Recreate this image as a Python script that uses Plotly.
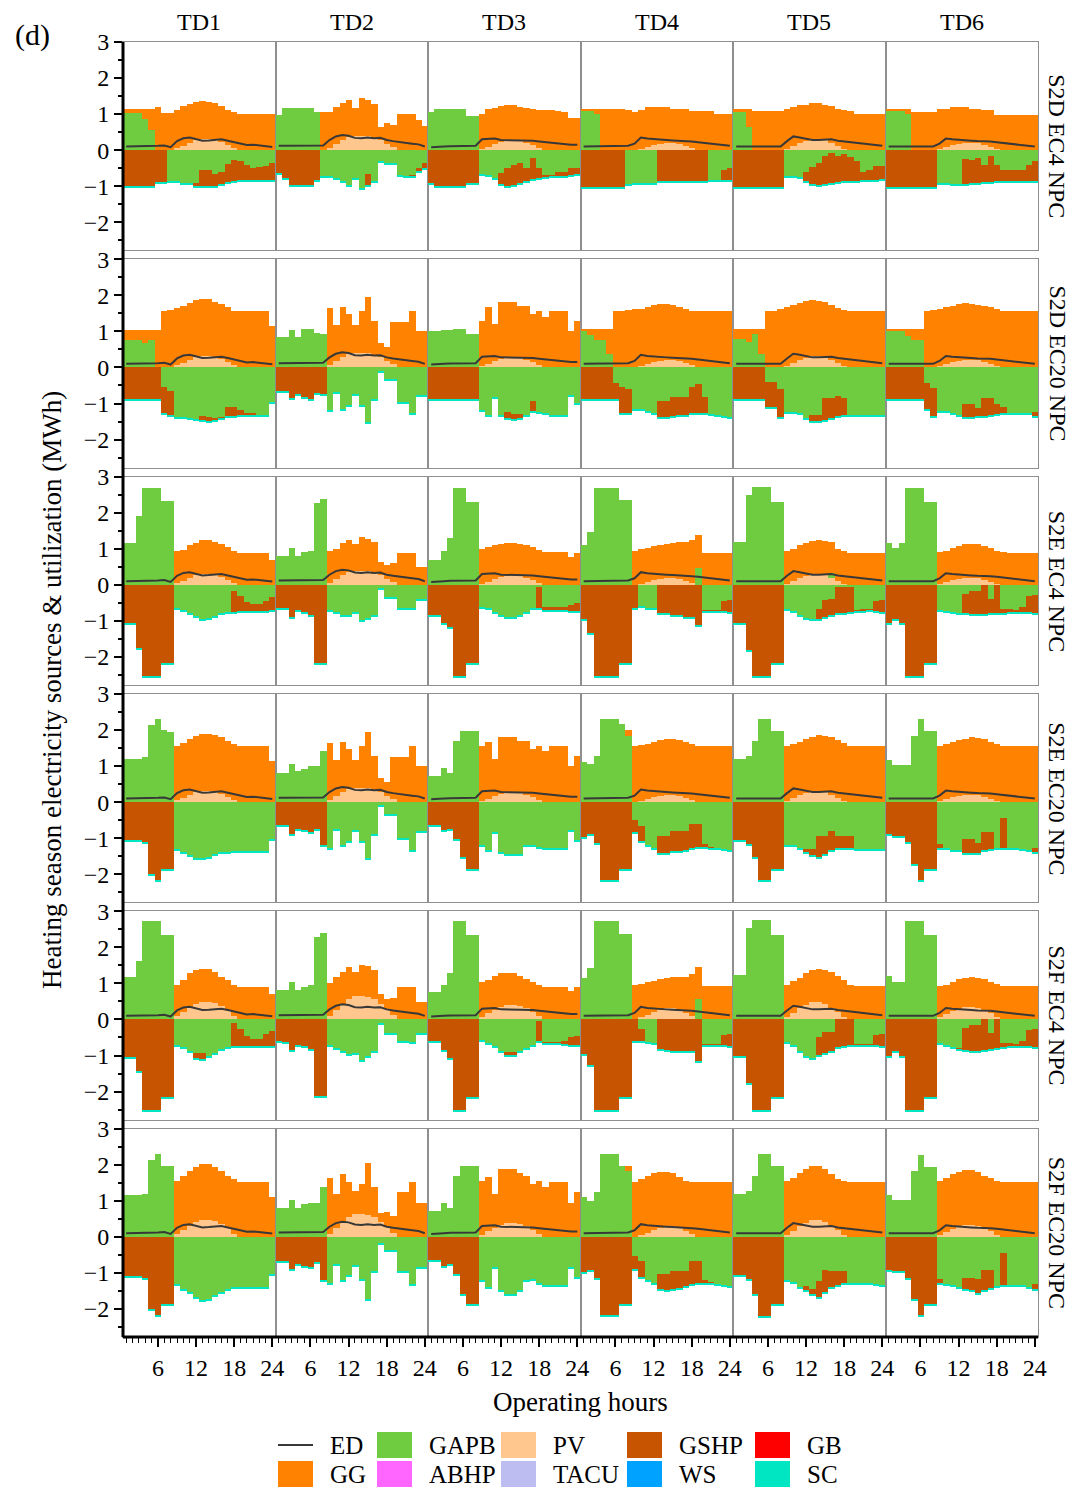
import plotly.graph_objects as go
from plotly.subplots import make_subplots

HOURS = list(range(1, 25))
TD_LABELS = ["TD1", "TD2", "TD3", "TD4", "TD5", "TD6"]
ROW_LABELS = ["S2D EC4 NPC", "S2D EC20 NPC", "S2E EC4 NPC", "S2E EC20 NPC", "S2F EC4 NPC", "S2F EC20 NPC"]
Y_TICKS = [-2, -1, 0, 1, 2, 3]
X_TICKS = [6, 12, 18, 24]

# Electricity demand line (same for every scenario), per typical day
ED_BY_TD = [
    [0.10,0.10,0.10,0.11,0.11,0.12,0.13,0.08, 0.25,0.33,0.35,0.30,0.26,0.27,0.28,0.30, 0.26,0.22,0.18,0.14,0.15,0.13,0.11,0.09],
    [0.12,0.12,0.11,0.12,0.12,0.11,0.12,0.13, 0.28,0.38,0.42,0.40,0.34,0.33,0.35,0.33, 0.34,0.28,0.25,0.22,0.20,0.18,0.16,0.10],
    [0.08,0.10,0.10,0.11,0.11,0.12,0.11,0.12, 0.30,0.32,0.32,0.28,0.28,0.28,0.27,0.27, 0.26,0.24,0.22,0.20,0.18,0.16,0.15,0.15],
    [0.10,0.10,0.10,0.10,0.10,0.10,0.10,0.12, 0.18,0.35,0.32,0.30,0.28,0.28,0.27,0.26, 0.27,0.24,0.22,0.20,0.19,0.17,0.15,0.12],
    [0.10,0.10,0.10,0.10,0.10,0.10,0.10,0.10, 0.25,0.38,0.35,0.32,0.28,0.28,0.30,0.30, 0.26,0.24,0.22,0.18,0.17,0.15,0.14,0.12],
    [0.10,0.10,0.10,0.10,0.10,0.10,0.10,0.10, 0.18,0.32,0.30,0.28,0.27,0.26,0.25,0.25, 0.24,0.22,0.20,0.19,0.17,0.16,0.14,0.10],
]

# PV output
PV_S2D_S2E = [
    [0,0,0,0,0,0,0,0, 0.05,0.12,0.20,0.27,0.30,0.30,0.28,0.22, 0.15,0.06,0,0,0,0,0,0],
    [0,0,0,0,0,0,0,0, 0.06,0.16,0.28,0.36,0.40,0.40,0.38,0.35, 0.28,0.18,0.08,0,0,0,0,0],
    [0,0,0,0,0,0,0,0, 0.04,0.10,0.17,0.22,0.26,0.26,0.24,0.20, 0.14,0.06,0,0,0,0,0,0],
    [0,0,0,0,0,0,0,0, 0,0.03,0.08,0.14,0.18,0.20,0.20,0.17, 0.12,0.05,0,0,0,0,0,0],
    [0,0,0,0,0,0,0,0, 0.04,0.12,0.20,0.26,0.30,0.30,0.27,0.20, 0.12,0.04,0,0,0,0,0,0],
    [0,0,0,0,0,0,0,0, 0.03,0.08,0.14,0.18,0.21,0.21,0.19,0.15, 0.10,0.04,0,0,0,0,0,0],
]
PV_S2F = [
    [0,0,0,0,0,0,0,0, 0.08,0.20,0.32,0.42,0.48,0.48,0.45,0.36, 0.24,0.10,0,0,0,0,0,0],
    [0,0,0,0,0,0,0,0, 0.10,0.25,0.42,0.55,0.63,0.65,0.62,0.55, 0.42,0.27,0.12,0,0,0,0,0],
    [0,0,0,0,0,0,0,0, 0.06,0.16,0.26,0.34,0.39,0.39,0.36,0.30, 0.20,0.08,0,0,0,0,0,0],
    [0,0,0,0,0,0,0,0, 0,0.05,0.12,0.20,0.26,0.30,0.30,0.26, 0.18,0.08,0,0,0,0,0,0],
    [0,0,0,0,0,0,0,0, 0.07,0.18,0.30,0.40,0.47,0.48,0.43,0.32, 0.20,0.06,0,0,0,0,0,0],
    [0,0,0,0,0,0,0,0, 0.05,0.13,0.22,0.29,0.34,0.35,0.32,0.26, 0.16,0.06,0,0,0,0,0,0],
]

# small SC utilization at the bottom of the negative stack
SC_SMALL = [0.03,0.03,0.03,0.03,0.03,0.03,0.03,0.03, 0.03,0.03,0.03,0.03,0.03,0.03,0.03,0.03, 0.03,0.03,0.03,0.03,0.03,0.03,0.03,0.03]

# ---------- S2D EC4 ----------
S2D_EC4_TOP = [
    [1.13,1.13,1.13,1.13,1.15,1.20,1.02,1.02, 1.12,1.22,1.28,1.33,1.35,1.34,1.30,1.22, 1.12,1.05,1.00,1.00,1.00,1.00,1.00,1.00],
    [0.97,1.18,1.18,1.18,1.18,1.18,1.06,1.06, 1.06,1.20,1.30,1.39,1.16,1.44,1.39,1.28, 0.65,0.74,0.69,1.00,1.00,1.00,0.83,0.67],
    [1.05,1.14,1.14,1.14,1.14,1.14,0.95,0.95, 1.00,1.14,1.18,1.22,1.25,1.25,1.20,1.18, 1.14,1.12,1.10,1.10,1.09,1.05,0.88,0.88],
    [1.14,1.14,1.14,1.14,1.14,1.14,1.14,1.10, 1.06,1.12,1.19,1.19,1.19,1.19,1.15,1.15, 1.15,1.08,1.08,1.08,1.08,1.00,1.00,1.00],
    [1.14,1.14,1.14,1.09,1.09,1.09,1.09,1.09, 1.15,1.19,1.24,1.26,1.30,1.30,1.25,1.22, 1.14,1.10,1.08,1.00,1.00,1.00,1.00,1.00],
    [1.13,1.13,1.13,1.13,1.07,1.07,1.07,1.07, 1.14,1.14,1.20,1.20,1.20,1.14,1.14,1.10, 1.10,0.98,0.98,0.98,0.98,0.98,0.98,0.98],
]
S2D_EC4_GAPB_P = [
    [1.02,1.02,1.02,0.85,0.55,0,0,0, 0,0,0,0,0,0,0,0, 0,0,0,0,0,0,0,0],
    [0.97,1.18,1.18,1.18,1.18,1.18,1.06,0, 0,0,0,0,0,0,0,0, 0,0,0,0,0,0,0,0],
    [1.05,1.14,1.14,1.14,1.14,1.14,0.95,0.95, 0,0,0,0,0,0,0,0, 0,0,0,0,0,0,0,0],
    [1.10,1.10,1.00,0,0,0,0,0, 0,0,0,0,0,0,0,0, 0,0,0,0,0,0,0,0],
    [1.05,1.05,0.65,0,0,0,0,0, 0,0,0,0,0,0,0,0, 0,0,0,0,0,0,0,0],
    [1.09,1.09,1.09,1.00,0,0,0,0, 0,0,0,0,0,0,0,0, 0,0,0,0,0,0,0,0],
]
S2D_EC4_BOT = [
    [1.00,1.00,1.00,1.00,1.00,0.90,0.90,0.86, 0.86,0.92,0.92,1.02,1.02,1.02,1.00,0.95, 0.90,0.86,0.84,0.84,0.84,0.84,0.84,0.84],
    [0.65,0.80,0.97,0.97,0.97,0.97,0.83,0.74, 0.74,0.79,0.88,0.97,0.80,1.06,0.97,0.88, 0.32,0.37,0.37,0.69,0.72,0.74,0.60,0.50],
    [0.92,1.00,1.00,1.00,1.00,1.00,0.92,0.92, 0.68,0.70,0.80,0.96,1.00,0.98,0.92,0.88, 0.82,0.78,0.75,0.74,0.73,0.72,0.70,0.68],
    [1.05,1.05,1.05,1.05,1.05,1.05,1.05,0.95, 0.92,0.92,0.92,0.92,0.88,0.88,0.88,0.88, 0.88,0.88,0.88,0.88,0.85,0.85,0.85,0.85],
    [1.05,1.05,1.05,1.05,1.05,1.05,1.05,1.05, 0.72,0.72,0.75,0.88,0.96,0.98,0.95,0.92, 0.90,0.88,0.87,0.86,0.85,0.84,0.83,0.82],
    [1.05,1.05,1.05,1.05,1.05,1.05,1.05,1.05, 0.92,0.92,0.95,0.96,0.95,0.93,0.92,0.90, 0.90,0.88,0.86,0.86,0.86,0.86,0.86,0.86],
]
S2D_EC4_GAPB_N = [
    [0,0,0,0,0,0,0,0.86, 0.86,0.92,0.92,0.90,0.55,0.55,0.65,0.62, 0.38,0.28,0.30,0.40,0.50,0.48,0.45,0.35],
    [0,0,0,0,0,0,0,0.74, 0.74,0.79,0.88,0.97,0.80,1.06,0.65,0.88, 0.32,0.37,0.37,0.69,0.72,0.70,0.50,0.35],
    [0,0,0,0,0,0,0,0, 0.68,0.70,0.80,0.64,0.50,0.42,0.36,0.50, 0.22,0.50,0.70,0.70,0.60,0.60,0.50,0.50],
    [0,0,0,0,0,0,0,0.95, 0.92,0.92,0.92,0.92,0,0,0,0, 0,0,0,0,0.85,0.85,0.55,0.50],
    [0,0,0,0,0,0,0,0, 0.72,0.72,0.75,0.60,0.48,0.35,0.15,0.08, 0.15,0.12,0.18,0.30,0.60,0.55,0.45,0.45],
    [0,0,0,0,0,0,0,0, 0.92,0.92,0.95,0.96,0.25,0.28,0.22,0.40, 0.17,0.40,0.55,0.55,0.55,0.55,0.40,0.30],
]

# ---------- S2D EC20 ----------
S2D_EC20_TOP = [
    [1.03,1.03,1.03,1.03,1.03,1.03,1.55,1.58, 1.63,1.70,1.78,1.85,1.90,1.88,1.82,1.75, 1.68,1.55,1.55,1.55,1.55,1.55,1.55,1.15],
    [0.84,0.84,1.03,0.84,1.06,1.06,0.96,0.92, 1.64,1.18,1.68,1.47,1.18,1.55,1.94,1.29, 0.66,0.55,1.24,1.24,1.24,1.55,0.99,0.99],
    [0.99,0.99,1.03,1.03,1.06,1.06,0.92,0.92, 1.29,1.68,1.19,1.80,1.80,1.80,1.70,1.70, 1.47,1.56,1.40,1.55,1.55,1.55,0.99,1.27],
    [1.06,1.06,1.06,1.06,1.06,1.55,1.55,1.58, 1.60,1.62,1.68,1.72,1.75,1.75,1.72,1.68, 1.62,1.55,1.55,1.55,1.55,1.55,1.55,1.55],
    [1.06,1.06,1.06,1.06,1.06,1.55,1.55,1.60, 1.66,1.72,1.78,1.84,1.86,1.84,1.80,1.72, 1.65,1.58,1.55,1.55,1.55,1.55,1.55,1.55],
    [1.06,1.06,1.06,1.06,1.06,1.06,1.55,1.58, 1.62,1.66,1.70,1.75,1.77,1.76,1.73,1.70, 1.66,1.60,1.55,1.55,1.55,1.55,1.55,1.55],
]
S2D_EC20_GAPB_P = [
    [0.75,0.75,0.75,0.66,0.75,0,0,0, 0,0,0,0,0,0,0,0, 0,0,0,0,0,0,0,0],
    [0.84,0.84,1.03,0.84,1.06,1.06,0.96,0.92, 0,0,0,0,0,0,0,0, 0,0,0,0,0,0,0,0],
    [0.99,0.99,1.03,1.03,1.06,1.06,0.92,0.92, 0,0,0,0,0,0,0,0, 0,0,0,0,0,0,0,0],
    [0.99,0.90,0.75,0.75,0.36,0,0,0, 0,0,0,0,0,0,0,0, 0,0,0,0,0,0,0,0],
    [0.78,0.78,0.69,0.92,0.36,0,0,0, 0,0,0,0,0,0,0,0, 0,0,0,0,0,0,0,0],
    [0.99,1.03,1.03,0.87,0.75,0.75,0,0, 0,0,0,0,0,0,0,0, 0,0,0,0,0,0,0,0],
]
S2D_EC20_BOT = [
    [0.89,0.89,0.89,0.89,0.89,0.89,1.30,1.35, 1.40,1.40,1.42,1.45,1.48,1.50,1.47,1.43, 1.38,1.36,1.35,1.35,1.35,1.35,1.35,0.98],
    [0.68,0.68,0.88,0.75,0.85,0.90,0.72,0.75, 1.21,0.70,1.17,1.07,0.75,1.07,1.54,0.89, 0.12,0.35,0.35,0.98,0.98,1.29,0.80,0.80],
    [0.89,0.89,0.89,0.89,0.89,0.89,0.89,0.89, 1.21,1.35,0.84,1.35,1.42,1.45,1.42,1.35, 1.22,1.25,1.30,1.35,1.35,1.35,0.80,1.02],
    [0.89,0.89,0.89,0.89,0.89,0.90,1.30,1.30, 1.17,1.18,1.22,1.30,1.40,1.40,1.37,1.35, 1.33,1.30,1.30,1.30,1.32,1.35,1.37,1.40],
    [0.89,0.89,0.89,0.89,0.89,1.12,1.12,1.40, 1.25,1.25,1.30,1.42,1.50,1.52,1.48,1.42, 1.38,1.35,1.33,1.33,1.33,1.33,1.33,1.33],
    [0.89,0.89,0.89,0.89,0.89,0.89,1.17,1.38, 1.22,1.24,1.30,1.35,1.40,1.40,1.38,1.37, 1.35,1.32,1.30,1.30,1.30,1.30,1.30,1.38],
]
S2D_EC20_GAPB_N = [
    [0,0,0,0,0,0,0.56,0.66, 1.40,1.40,1.42,1.45,1.35,1.38,1.40,1.40, 1.10,1.10,1.20,1.30,1.30,1.35,1.35,0.98],
    [0,0,0,0,0,0,0,0, 1.21,0.70,1.17,1.07,0.75,1.07,1.54,0.89, 0.12,0.35,0.35,0.98,0.98,1.29,0.80,0.80],
    [0,0,0,0,0,0,0,0, 1.21,1.35,0.84,1.35,1.25,1.30,1.30,1.35, 0.95,1.25,1.30,1.35,1.35,1.35,0.80,1.02],
    [0,0,0,0,0,0.45,0.55,0.60, 1.17,1.18,1.22,1.30,0.94,0.94,0.84,0.84, 0.84,0.56,0.47,0.84,1.32,1.35,1.37,1.40],
    [0,0,0,0,0,0.40,0.40,0.60, 1.25,1.25,1.30,1.42,1.32,1.32,0.85,0.85, 0.80,0.85,1.33,1.33,1.33,1.33,1.33,1.33],
    [0,0,0,0,0,0,0.43,0.57, 1.22,1.24,1.30,1.35,1.03,1.03,1.12,0.85, 0.85,1.03,1.10,1.30,1.30,1.30,1.30,1.25],
]

# ---------- S2E EC4 ----------
S2E_EC4_TOP = [
    [1.18,1.18,1.92,2.70,2.70,2.70,2.33,2.33, 0.94,0.98,1.10,1.18,1.24,1.24,1.20,1.15, 1.06,0.95,0.90,0.90,0.90,0.90,0.90,0.69],
    [0.80,0.80,1.03,0.82,0.92,0.96,2.28,2.40, 0.94,1.00,1.18,1.24,1.15,1.33,1.29,1.19, 0.64,0.57,0.62,0.90,0.90,0.90,0.50,0.50],
    [0.71,0.71,0.94,1.31,2.70,2.70,2.30,2.30, 0.99,1.05,1.10,1.15,1.18,1.18,1.15,1.10, 1.05,0.98,0.92,0.92,0.92,0.92,0.78,0.90],
    [1.12,1.47,2.70,2.70,2.70,2.70,2.35,2.35, 0.94,1.00,1.03,1.08,1.12,1.15,1.17,1.19, 1.19,1.24,1.40,0.90,0.90,0.90,0.90,0.90],
    [1.21,1.21,2.49,2.72,2.72,2.72,2.30,2.30, 0.94,1.00,1.12,1.18,1.22,1.24,1.22,1.19, 1.00,0.94,0.90,0.90,0.90,0.90,0.90,0.90],
    [1.18,1.03,1.18,2.70,2.70,2.70,2.32,2.32, 0.92,0.95,1.02,1.08,1.14,1.15,1.14,1.08, 1.02,0.96,0.92,0.90,0.90,0.90,0.90,0.90],
]
S2E_EC4_GAPB_P = [
    [1.18,1.18,1.92,2.70,2.70,2.70,2.33,2.33, 0,0,0,0,0,0,0,0, 0,0,0,0,0,0,0,0],
    [0.80,0.80,1.03,0.82,0.92,0.96,2.28,2.40, 0,0,0,0,0,0,0,0, 0,0,0,0,0,0,0,0],
    [0.71,0.71,0.94,1.31,2.70,2.70,2.30,2.30, 0,0,0,0,0,0,0,0, 0,0,0,0,0,0,0,0],
    [1.12,1.47,2.70,2.70,2.70,2.70,2.35,2.35, 0,0,0,0,0,0,0,0, 0,0,0.47,0,0,0,0,0],
    [1.21,1.21,2.49,2.72,2.72,2.72,2.30,2.30, 0,0,0,0,0,0,0,0.13, 0,0,0,0,0,0,0,0],
    [1.18,1.03,1.18,2.70,2.70,2.70,2.32,2.32, 0,0,0,0,0,0,0,0, 0,0,0,0,0,0,0,0],
]
S2E_EC4_BOT = [
    [1.07,1.07,1.77,2.53,2.53,2.53,2.18,2.18, 0.66,0.70,0.80,0.88,0.94,0.92,0.88,0.80, 0.75,0.75,0.74,0.73,0.72,0.72,0.72,0.70],
    [0.66,0.66,0.89,0.70,0.75,0.84,2.18,2.18, 0.70,0.75,0.84,0.84,0.75,0.98,0.92,0.84, 0.10,0.33,0.33,0.66,0.66,0.64,0.40,0.40],
    [0.84,0.84,1.07,1.17,2.53,2.53,2.18,2.18, 0.61,0.66,0.75,0.84,0.89,0.89,0.84,0.75, 0.66,0.66,0.70,0.70,0.70,0.70,0.72,0.73],
    [0.94,1.35,2.53,2.53,2.53,2.53,2.18,2.18, 0.65,0.60,0.65,0.65,0.80,0.80,0.84,0.84, 0.89,0.89,1.12,0.72,0.72,0.72,0.74,0.75],
    [1.07,1.07,1.81,2.53,2.53,2.53,2.18,2.18, 0.68,0.72,0.85,0.92,0.95,0.95,0.90,0.85, 0.80,0.78,0.75,0.74,0.72,0.70,0.72,0.75],
    [1.07,0.94,1.07,2.53,2.53,2.53,2.18,2.18, 0.70,0.72,0.75,0.78,0.80,0.82,0.82,0.82, 0.80,0.80,0.78,0.76,0.75,0.75,0.76,0.78],
]
S2E_EC4_GAPB_N = [
    [0,0,0,0,0,0,0,0, 0.66,0.70,0.80,0.88,0.94,0.92,0.88,0.80, 0.75,0.15,0.29,0.47,0.52,0.52,0.43,0.33],
    [0,0,0,0,0,0,0,0, 0.70,0.75,0.84,0.84,0.75,0.98,0.92,0.84, 0.10,0.33,0.33,0.66,0.66,0.64,0.40,0.40],
    [0,0,0,0,0,0,0,0, 0.61,0.66,0.75,0.84,0.89,0.89,0.84,0.75, 0.66,0.05,0.62,0.62,0.62,0.62,0.55,0.50],
    [0,0,0,0,0,0,0,0, 0,0.60,0.65,0.65,0,0,0,0, 0,0,0,0.70,0.70,0.70,0.45,0.40],
    [0,0,0,0,0,0,0,0, 0.68,0.72,0.85,0.92,0.95,0.66,0.40,0.38, 0.05,0.05,0.05,0.68,0.68,0.68,0.45,0.42],
    [0,0,0,0,0,0,0,0, 0.70,0.72,0.75,0.78,0.24,0.15,0.15,0, 0.38,0,0.65,0.65,0.68,0.60,0.30,0.28],
]

# ---------- S2E EC20 ----------
S2E_EC20_TOP = [
    [1.19,1.19,1.19,1.24,2.14,2.32,2.00,1.95, 1.56,1.64,1.75,1.84,1.89,1.89,1.86,1.80, 1.70,1.60,1.55,1.55,1.55,1.55,1.55,1.15],
    [0.82,0.82,1.06,0.87,0.92,0.99,0.99,1.43, 1.64,1.18,1.68,1.47,1.18,1.55,1.94,1.29, 0.66,0.55,1.24,1.24,1.24,1.55,0.99,0.99],
    [0.73,0.73,0.94,0.82,1.70,1.98,1.98,1.98, 1.56,1.68,1.19,1.80,1.80,1.80,1.70,1.70, 1.47,1.56,1.43,1.55,1.55,1.55,0.99,1.27],
    [1.12,1.06,1.29,2.32,2.32,2.32,2.17,2.00, 1.55,1.58,1.62,1.68,1.72,1.75,1.75,1.72, 1.66,1.60,1.55,1.55,1.55,1.55,1.55,1.55],
    [1.19,1.19,1.29,1.70,2.32,2.32,1.98,1.98, 1.55,1.60,1.68,1.75,1.82,1.86,1.84,1.80, 1.72,1.64,1.57,1.55,1.55,1.55,1.55,1.55],
    [1.18,1.03,1.03,1.03,1.84,2.32,1.98,1.98, 1.55,1.60,1.66,1.72,1.76,1.80,1.78,1.74, 1.68,1.62,1.55,1.55,1.55,1.55,1.55,1.55],
]
S2E_EC20_GAPB_P = [
    [1.19,1.19,1.19,1.24,2.14,2.32,2.00,1.95, 0,0,0,0,0,0,0,0, 0,0,0,0,0,0,0,0],
    [0.82,0.82,1.06,0.87,0.92,0.99,0.99,1.43, 0,0,0,0,0,0,0,0, 0,0,0,0,0,0,0,0],
    [0.73,0.73,0.94,0.82,1.70,1.98,1.98,1.98, 0,0,0,0,0,0,0,0, 0,0,0,0,0,0,0,0],
    [1.12,1.06,1.29,2.32,2.32,2.32,2.17,1.84, 0,0,0,0,0,0,0,0, 0,0,0,0,0,0,0,0],
    [1.19,1.19,1.29,1.70,2.32,2.32,1.98,1.98, 0,0,0,0,0,0,0,0, 0,0,0,0,0,0,0,0],
    [1.18,1.03,1.03,1.03,1.84,2.32,1.98,1.98, 0,0,0,0,0,0,0,0, 0,0,0,0,0,0,0,0],
]
S2E_EC20_BOT = [
    [1.07,1.07,1.07,1.12,2.00,2.18,1.86,1.86, 1.32,1.40,1.49,1.56,1.56,1.54,1.44,1.40, 1.40,1.37,1.37,1.37,1.37,1.37,1.37,1.03],
    [0.66,0.66,0.89,0.75,0.80,0.84,0.75,1.19, 1.28,0.75,1.20,1.10,0.78,1.10,1.55,0.90, 0.10,0.35,0.35,1.00,1.00,1.33,0.82,0.82],
    [0.66,0.66,0.80,0.75,1.03,1.54,1.86,1.86, 1.21,1.35,0.84,1.40,1.44,1.44,1.44,1.21, 1.19,1.26,1.30,1.30,1.30,1.30,0.80,1.07],
    [0.98,0.89,1.14,2.18,2.18,2.18,1.86,1.86, 0.85,1.10,1.21,1.30,1.42,1.42,1.38,1.36, 1.34,1.30,1.27,1.27,1.30,1.30,1.32,1.35],
    [1.07,1.07,1.17,1.54,2.18,2.18,1.86,1.86, 1.21,1.21,1.30,1.40,1.49,1.54,1.45,1.35, 1.30,1.28,1.30,1.32,1.32,1.32,1.32,1.32],
    [0.89,0.94,0.94,1.12,1.72,2.18,1.86,1.86, 1.30,1.30,1.35,1.35,1.42,1.42,1.42,1.35, 1.32,1.30,1.30,1.30,1.30,1.32,1.35,1.40],
]
S2E_EC20_GAPB_N = [
    [0,0,0,0,0,0,0,0, 1.32,1.40,1.49,1.56,1.56,1.54,1.44,1.40, 1.40,1.37,1.37,1.37,1.37,1.37,1.37,1.03],
    [0,0,0,0,0,0,0,0, 1.28,0.75,1.20,1.10,0.78,1.10,1.55,0.90, 0.10,0.35,0.35,1.00,1.00,1.33,0.82,0.82],
    [0,0,0,0,0,0,0,0, 1.21,1.35,0.84,1.40,1.44,1.44,1.44,1.21, 1.19,1.26,1.30,1.30,1.30,1.30,0.80,1.07],
    [0,0,0,0,0,0,0,0, 0.50,0.65,1.21,1.30,0.95,0.95,0.80,0.80, 0.80,0.62,0.62,1.17,1.25,1.30,1.32,1.35],
    [0,0,0,0,0,0,0,0, 1.21,1.21,1.30,1.30,1.30,0.94,0.94,0.80, 0.94,0.94,0.94,1.32,1.32,1.32,1.32,1.32],
    [0,0,0,0,0,0,0,0, 1.17,1.30,1.35,1.35,1.03,1.03,1.12,0.84, 0.84,1.30,0.43,1.30,1.30,1.32,1.35,1.28],
]

# ---------- S2F EC4 ----------
S2F_EC4_TOP = [
    [1.18,1.18,1.60,2.73,2.73,2.73,2.33,2.33, 0.94,1.08,1.27,1.36,1.40,1.40,1.31,1.18, 1.08,0.94,0.90,0.90,0.90,0.90,0.90,0.71],
    [0.80,0.80,1.03,0.80,0.90,0.96,2.28,2.38, 0.99,1.18,1.31,1.45,1.31,1.50,1.48,1.36, 0.69,0.57,0.60,0.90,0.90,0.90,0.48,0.48],
    [0.74,0.74,0.94,1.27,2.73,2.73,2.33,2.33, 1.02,1.08,1.20,1.27,1.27,1.27,1.20,1.11, 1.02,0.94,0.90,0.90,0.90,0.90,0.78,0.90],
    [1.13,1.43,2.72,2.72,2.72,2.72,2.35,2.35, 0.94,0.98,1.02,1.06,1.12,1.14,1.16,1.18, 1.18,1.24,1.45,0.93,0.93,0.93,0.93,0.93],
    [1.22,1.22,2.52,2.75,2.75,2.75,2.33,2.33, 0.94,1.05,1.15,1.27,1.35,1.39,1.36,1.30, 1.20,1.08,0.95,0.93,0.93,0.93,0.93,0.93],
    [1.20,1.04,1.04,2.72,2.72,2.72,2.33,2.33, 0.92,0.96,1.03,1.10,1.15,1.17,1.15,1.10, 1.03,0.97,0.93,0.92,0.92,0.92,0.92,0.92],
]
S2F_EC4_GAPB_P = [
    [1.18,1.18,1.60,2.73,2.73,2.73,2.33,2.33, 0,0,0,0,0,0,0,0, 0,0,0,0,0,0,0,0],
    [0.80,0.80,1.03,0.80,0.90,0.96,2.28,2.38, 0,0,0,0,0,0,0,0, 0,0,0,0,0,0,0,0],
    [0.74,0.74,0.94,1.27,2.73,2.73,2.33,2.33, 0,0,0,0,0,0,0,0, 0,0,0,0,0,0,0,0],
    [1.13,1.43,2.72,2.72,2.72,2.72,2.35,2.35, 0,0,0,0,0,0,0,0, 0,0,0.55,0,0,0,0,0],
    [1.22,1.22,2.52,2.75,2.75,2.75,2.33,2.33, 0,0,0,0,0,0,0,0, 0,0,0,0,0,0,0,0],
    [1.20,1.04,1.04,2.72,2.72,2.72,2.33,2.33, 0,0,0,0,0,0,0,0, 0,0,0,0,0,0,0,0],
]
S2F_EC4_BOT = [
    [1.07,1.07,1.46,2.53,2.53,2.53,2.18,2.18, 0.72,0.80,0.90,1.10,1.11,1.05,0.95,0.85, 0.78,0.77,0.77,0.77,0.77,0.77,0.77,0.77],
    [0.63,0.66,0.86,0.72,0.77,0.83,2.16,2.16, 0.72,0.81,0.90,0.99,0.95,1.14,1.05,0.90, 0.12,0.40,0.40,0.63,0.63,0.65,0.40,0.40],
    [0.63,0.63,0.86,1.09,2.53,2.53,2.18,2.18, 0.58,0.68,0.77,0.90,1.00,1.00,0.90,0.81, 0.72,0.63,0.68,0.68,0.68,0.70,0.72,0.73],
    [0.98,1.28,2.53,2.53,2.53,2.53,2.18,2.18, 0.63,0.62,0.65,0.68,0.85,0.88,0.90,0.90, 0.90,0.90,1.17,0.72,0.72,0.72,0.74,0.75],
    [1.05,1.05,1.79,2.53,2.53,2.53,2.18,2.18, 0.65,0.72,0.90,1.05,1.09,1.02,0.95,0.90, 0.80,0.75,0.73,0.72,0.72,0.72,0.74,0.75],
    [1.05,0.91,1.05,2.53,2.53,2.53,2.18,2.18, 0.68,0.72,0.78,0.85,0.88,0.90,0.90,0.88, 0.85,0.82,0.78,0.76,0.75,0.75,0.76,0.78],
]
S2F_EC4_GAPB_N = [
    [0,0,0,0,0,0,0,0, 0.72,0.80,0.90,0.95,0.95,1.05,0.95,0.85, 0.78,0.12,0.26,0.47,0.54,0.54,0.40,0.33],
    [0,0,0,0,0,0,0,0, 0.72,0.81,0.90,0.99,0.95,1.14,1.05,0.90, 0.12,0.40,0.40,0.63,0.63,0.65,0.40,0.40],
    [0,0,0,0,0,0,0,0, 0.58,0.68,0.77,0.90,0.92,0.92,0.90,0.81, 0.72,0.05,0.65,0.65,0.65,0.62,0.50,0.48],
    [0,0,0,0,0,0,0,0, 0,0.28,0.65,0.68,0,0,0,0, 0,0,0,0.70,0.70,0.70,0.45,0.42],
    [0,0,0,0,0,0,0,0, 0.65,0.72,0.90,1.05,1.09,0.50,0.35,0.35, 0,0,0,0.70,0.70,0.70,0.45,0.42],
    [0,0,0,0,0,0,0,0, 0.68,0.72,0.78,0.82,0.24,0.15,0.15,0, 0.38,0,0.65,0.65,0.68,0.60,0.30,0.28],
]

# ---------- S2F EC20 ----------
S2F_EC20_TOP = [
    [1.17,1.17,1.17,1.21,2.14,2.32,1.98,1.98, 1.56,1.70,1.84,1.95,2.03,2.03,1.95,1.84, 1.70,1.61,1.52,1.52,1.52,1.52,1.52,1.12],
    [0.80,0.80,1.03,0.82,0.92,0.96,0.96,1.40, 1.64,1.21,1.75,1.52,1.29,1.47,2.07,1.40, 0.66,0.69,0.60,1.24,1.24,1.52,0.96,0.96],
    [0.73,0.73,0.94,0.82,1.70,1.98,1.98,1.98, 1.55,1.68,1.19,1.89,1.89,1.89,1.77,1.70, 1.47,1.55,1.40,1.52,1.52,1.52,0.94,1.24],
    [1.12,1.01,1.24,2.30,2.30,2.30,1.98,1.98, 1.52,1.61,1.70,1.77,1.80,1.80,1.77,1.66, 1.56,1.52,1.52,1.52,1.52,1.52,1.52,1.52],
    [1.19,1.19,1.29,1.70,2.32,2.32,1.98,1.98, 1.55,1.64,1.77,1.89,1.98,1.98,1.89,1.75, 1.61,1.55,1.52,1.52,1.52,1.52,1.52,1.52],
    [1.18,1.03,1.03,1.03,1.84,2.29,1.95,1.95, 1.55,1.64,1.75,1.82,1.86,1.86,1.80,1.71, 1.64,1.55,1.52,1.52,1.52,1.52,1.52,1.52],
]
S2F_EC20_GAPB_P = [
    [1.17,1.17,1.17,1.21,2.14,2.32,1.98,1.98, 0,0,0,0,0,0,0,0, 0,0,0,0,0,0,0,0],
    [0.80,0.80,1.03,0.82,0.92,0.96,0.96,1.40, 0,0,0,0,0,0,0,0, 0,0,0,0,0,0,0,0],
    [0.73,0.73,0.94,0.82,1.70,1.98,1.98,1.98, 0,0,0,0,0,0,0,0, 0,0,0,0,0,0,0,0],
    [1.12,1.01,1.24,2.30,2.30,2.30,1.98,1.84, 0,0,0,0,0,0,0,0, 0,0,0,0,0,0,0,0],
    [1.19,1.19,1.29,1.70,2.32,2.32,1.98,1.98, 0,0,0,0,0,0,0,0, 0,0,0,0,0,0,0,0],
    [1.18,1.03,1.03,1.03,1.84,2.29,1.95,1.95, 0,0,0,0,0,0,0,0, 0,0,0,0,0,0,0,0],
]
S2F_EC20_BOT = [
    [1.10,1.10,1.10,1.14,2.00,2.18,1.86,1.86, 1.32,1.44,1.54,1.68,1.75,1.72,1.63,1.54, 1.44,1.40,1.40,1.40,1.40,1.40,1.40,1.03],
    [0.68,0.68,0.90,0.75,0.82,0.84,0.70,1.21, 1.30,0.75,1.21,1.07,0.80,1.17,1.72,0.94, 0.19,0.38,0.38,0.94,0.94,1.32,0.84,0.84],
    [0.66,0.66,0.82,0.75,1.03,1.58,1.86,1.86, 1.21,1.40,0.84,1.49,1.58,1.58,1.49,1.21, 1.17,1.30,1.35,1.35,1.35,1.35,0.84,1.12],
    [0.98,0.92,1.14,2.18,2.18,2.18,1.86,1.86, 0.89,1.12,1.21,1.30,1.45,1.48,1.45,1.42, 1.38,1.32,1.30,1.30,1.30,1.32,1.34,1.36],
    [1.07,1.07,1.17,1.58,2.20,2.20,1.86,1.86, 1.21,1.26,1.40,1.49,1.60,1.68,1.54,1.40, 1.35,1.30,1.30,1.30,1.30,1.30,1.32,1.35],
    [0.92,0.94,0.94,1.14,1.72,2.18,1.86,1.86, 1.30,1.32,1.35,1.40,1.44,1.49,1.56,1.49, 1.42,1.38,1.35,1.35,1.35,1.35,1.40,1.44],
]
S2F_EC20_GAPB_N = [
    [0,0,0,0,0,0,0,0, 1.32,1.44,1.54,1.68,1.75,1.72,1.63,1.54, 1.44,1.40,1.40,1.40,1.40,1.40,1.40,1.03],
    [0,0,0,0,0,0,0,0, 1.30,0.75,1.21,1.07,0.80,1.17,1.72,0.94, 0.19,0.38,0.38,0.94,0.94,1.32,0.84,0.84],
    [0,0,0,0,0,0,0,0, 1.21,1.40,0.84,1.49,1.58,1.58,1.49,1.21, 1.17,1.30,1.35,1.35,1.35,1.35,0.84,1.12],
    [0,0,0,0,0,0,0,0, 0.52,0.66,1.21,1.30,1.03,1.03,0.94,0.94, 0.94,0.66,0.66,1.20,1.25,1.32,1.34,1.36],
    [0,0,0,0,0,0,0,0, 1.21,1.26,1.40,1.35,1.44,1.21,0.92,0.94, 0.94,0.94,1.30,1.30,1.30,1.30,1.32,1.35],
    [0,0,0,0,0,0,0,0, 1.15,1.32,1.35,1.40,1.12,1.12,1.17,0.92, 0.92,1.38,0.45,1.35,1.35,1.35,1.40,1.30],
]

SCENARIOS = [
    (S2D_EC4_TOP, S2D_EC4_GAPB_P, S2D_EC4_BOT, S2D_EC4_GAPB_N, PV_S2D_S2E),
    (S2D_EC20_TOP, S2D_EC20_GAPB_P, S2D_EC20_BOT, S2D_EC20_GAPB_N, PV_S2D_S2E),
    (S2E_EC4_TOP, S2E_EC4_GAPB_P, S2E_EC4_BOT, S2E_EC4_GAPB_N, PV_S2D_S2E),
    (S2E_EC20_TOP, S2E_EC20_GAPB_P, S2E_EC20_BOT, S2E_EC20_GAPB_N, PV_S2D_S2E),
    (S2F_EC4_TOP, S2F_EC4_GAPB_P, S2F_EC4_BOT, S2F_EC4_GAPB_N, PV_S2F),
    (S2F_EC20_TOP, S2F_EC20_GAPB_P, S2F_EC20_BOT, S2F_EC20_GAPB_N, PV_S2F),
]

COLORS = dict(GG="#FF8200", GAPB="#6FCC40", PV="#FFC78E", GSHP="#C65400", GB="#FF0000",
              ABHP="#FF66FF", TACU="#BDBDF2", WS="#00A2FF", SC="#00E6C3", ED="#383838")
FONT = "Liberation Serif, DejaVu Serif, serif"

# page body margin offset (browser default 8px)
OFF = 8
ML, MT = 115, 34
PW, PH = 915, 1295
W, H = 1061, 1484
MR, MB = W - ML - PW, H - MT - PH

def px(x):  # page pixel x -> paper
    return (x - OFF - ML) / PW

def py(y):  # page pixel y -> paper
    return (OFF + MT + PH - y) / PH

fig = make_subplots(rows=6, cols=6, horizontal_spacing=0, vertical_spacing=9 / PH)

def fix(lst):
    lst = list(lst)[:24]
    return lst + [0] * (24 - len(lst))

for r, (TOP, GP, BOT, GN, PV) in enumerate(SCENARIOS, start=1):
    for c in range(6):
        top, gp, bot, gn, pv = fix(TOP[c]), fix(GP[c]), fix(BOT[c]), fix(GN[c]), fix(PV[c])
        gg = [round(max(t - g - p, 0), 3) for t, g, p in zip(top, gp, pv)]
        gshp = [round(max(b - n, 0), 3) for b, n in zip(bot, gn)]
        bar = lambda y, col, name: go.Bar(x=HOURS, y=y, name=name, marker=dict(color=col, line=dict(width=0)),
                                           showlegend=False, hoverinfo="skip")
        fig.add_trace(bar(pv, COLORS["PV"], "PV"), row=r, col=c + 1)
        fig.add_trace(bar(gp, COLORS["GAPB"], "GAPB"), row=r, col=c + 1)
        fig.add_trace(bar(gg, COLORS["GG"], "GG"), row=r, col=c + 1)
        fig.add_trace(bar([-v for v in gn], COLORS["GAPB"], "GAPB"), row=r, col=c + 1)
        fig.add_trace(bar([-v for v in gshp], COLORS["GSHP"], "GSHP"), row=r, col=c + 1)
        fig.add_trace(bar([-v for v in SC_SMALL], COLORS["SC"], "SC"), row=r, col=c + 1)
        fig.add_trace(go.Scatter(x=HOURS, y=ED_BY_TD[c], mode="lines", name="ED",
                                 line=dict(color=COLORS["ED"], width=2), showlegend=False, hoverinfo="skip"),
                      row=r, col=c + 1)

GRID = "#8f8f8f"
for r in range(1, 7):
    for c in range(1, 7):
        xa = dict(range=[0.5, 24.5], showgrid=False, zeroline=False, showline=True, mirror=True,
                  linecolor=GRID, linewidth=1)
        if r == 6:
            xa.update(tickmode="array", tickvals=X_TICKS, ticktext=[str(v) for v in X_TICKS],
                      ticks="outside", ticklen=9, tickwidth=1.5, tickcolor="black",
                      tickfont=dict(family=FONT, size=24, color="black"),
                      minor=dict(tickmode="array", tickvals=HOURS, ticks="outside", ticklen=5,
                                 tickwidth=1, tickcolor="black"))
        else:
            xa.update(showticklabels=False, ticks="")
        fig.update_xaxes(row=r, col=c, **xa)
        ya = dict(range=[-2.78, 3.0], showgrid=False, zeroline=False, showline=True, mirror=True,
                  linecolor=GRID, linewidth=1)
        if c == 1:
            ya.update(tickmode="array", tickvals=Y_TICKS, ticks="outside", ticklen=8, tickwidth=2,
                      tickcolor="black", tickfont=dict(family=FONT, size=24, color="black"),
                      minor=dict(tickmode="array", tickvals=[-2.5, -1.5, -0.5, 0.5, 1.5, 2.5],
                                 ticks="outside", ticklen=4, tickwidth=2, tickcolor="black"))
        else:
            ya.update(showticklabels=False, ticks="")
        fig.update_yaxes(row=r, col=c, **ya)

shapes = [
    dict(type="line", xref="paper", yref="paper", x0=0, x1=0, y0=0, y1=1, line=dict(color="black", width=3)),
    dict(type="line", xref="paper", yref="paper", x0=0, x1=1, y0=0, y1=0, line=dict(color="black", width=3)),
]
annotations = []
for c, lab in enumerate(TD_LABELS):
    annotations.append(dict(text=lab, x=(c + 0.5) / 6, y=py(22), xref="paper", yref="paper",
                            showarrow=False, xanchor="center", yanchor="middle",
                            font=dict(family=FONT, size=24, color="black")))
for r, lab in enumerate(ROW_LABELS, start=1):
    idx = (r - 1) * 6 + 1
    dom = fig.layout["yaxis" if idx == 1 else f"yaxis{idx}"].domain
    annotations.append(dict(text=lab, x=px(1057), y=(dom[0] + dom[1]) / 2, xref="paper", yref="paper",
                            showarrow=False, textangle=90, xanchor="center", yanchor="middle",
                            font=dict(family=FONT, size=24, color="black")))
annotations.append(dict(text="Heating season electricity sources & utilization (MWh)", x=px(52), y=py(690),
                        xref="paper", yref="paper", showarrow=False, textangle=-90,
                        xanchor="center", yanchor="middle", font=dict(family=FONT, size=27, color="black")))
annotations.append(dict(text="Operating hours", x=px(580), y=py(1402), xref="paper", yref="paper",
                        showarrow=False, xanchor="center", yanchor="middle",
                        font=dict(family=FONT, size=27, color="black")))
annotations.append(dict(text="(d)", x=px(32), y=py(35), xref="paper", yref="paper",
                        showarrow=False, xanchor="center", yanchor="middle",
                        font=dict(family=FONT, size=30, color="black")))

# manual legend (2 rows x 5 columns)
LEGEND_ROW1 = ["ED", "GAPB", "PV", "GSHP", "GB"]
LEGEND_ROW2 = ["GG", "ABHP", "TACU", "WS", "SC"]
LEG_X = [278, 377, 501, 627, 755]
LEG_Y = [1445, 1474]
for row_items, yc in zip([LEGEND_ROW1, LEGEND_ROW2], LEG_Y):
    for name, x0 in zip(row_items, LEG_X):
        if name == "ED":
            shapes.append(dict(type="line", xref="paper", yref="paper", x0=px(x0), x1=px(x0 + 35),
                               y0=py(yc), y1=py(yc), line=dict(color=COLORS["ED"], width=2)))
        else:
            shapes.append(dict(type="rect", xref="paper", yref="paper", x0=px(x0), x1=px(x0 + 35),
                               y0=py(yc - 13), y1=py(yc + 13), fillcolor=COLORS[name], line=dict(width=0)))
        annotations.append(dict(text=name, x=px(x0 + 50), y=py(yc), xref="paper", yref="paper",
                                showarrow=False, xanchor="left", yanchor="middle",
                                font=dict(family=FONT, size=25, color="black")))

fig.update_layout(
    width=W, height=H, margin=dict(l=ML, r=MR, t=MT, b=MB),
    barmode="relative", bargap=0, bargroupgap=0,
    paper_bgcolor="white", plot_bgcolor="white", showlegend=False,
    shapes=shapes, annotations=annotations,
    font=dict(family=FONT, color="black"),
)

fig.write_html("out.html")
